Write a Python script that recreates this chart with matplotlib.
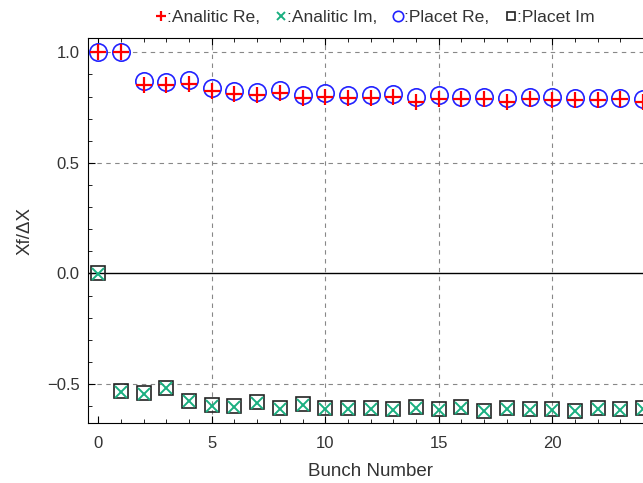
import matplotlib.pyplot as plt
import numpy as np

bunch = np.arange(25)
analitic_re = [1.0, 1.0, 0.853, 0.85, 0.858, 0.824, 0.812, 0.805, 0.815, 0.792, 0.80, 0.792, 0.792,
               0.797, 0.777, 0.79, 0.787, 0.79, 0.777, 0.787, 0.783, 0.783, 0.783, 0.787, 0.777]
placet_re = [1.0, 1.0, 0.87, 0.865, 0.873, 0.84, 0.827, 0.82, 0.83, 0.808, 0.817, 0.805, 0.807,
             0.81, 0.80, 0.805, 0.797, 0.80, 0.792, 0.797, 0.797, 0.792, 0.792, 0.792, 0.79]
placet_im = [0.0, -0.534, -0.541, -0.516, -0.575, -0.596, -0.60, -0.58, -0.61, -0.59, -0.61, -0.61, -0.61,
             -0.612, -0.603, -0.615, -0.603, -0.62, -0.61, -0.612, -0.612, -0.62, -0.61, -0.615, -0.61]
analitic_im = [v - 0.004 for v in placet_im]

plt.rcParams['font.family'] = ['Liberation Sans', 'DejaVu Sans']
plt.rcParams['font.size'] = 12
grey = '#333333'

fig = plt.figure(figsize=(6.43, 4.83), dpi=100)
ax = fig.add_axes([0.137, 0.124, 0.879, 0.797])

ax.axhline(0, color='black', lw=1, zorder=1)
l1, = ax.plot(bunch, analitic_re, '+', color='red', ms=11, mew=1.6, ls='none', zorder=4)
l2, = ax.plot(bunch, analitic_im, 'x', color='#1aaf80', ms=9, mew=1.4, ls='none', zorder=4)
l3, = ax.plot(bunch, placet_re, 'o', mfc='none', mec='#2222ff', ms=12.5, mew=1.2, ls='none', zorder=3)
l4, = ax.plot(bunch, placet_im, 's', mfc='none', mec='#222222', ms=10, mew=1.2, ls='none', zorder=3)

ax.set_xlim(-0.45, 24.45)
ax.set_ylim(-0.677, 1.064)
ax.set_xticks([0, 5, 10, 15, 20])
ax.set_xticks(np.arange(0, 25), minor=True)
ax.set_yticks([-0.5, 0.0, 0.5, 1.0])
ax.set_yticklabels(['\u22120.5', '0.0', '0.5', '1.0'])
ax.set_yticks(np.arange(-0.6, 1.05, 0.1), minor=True)
ax.tick_params(which='both', direction='in', top=True, right=False, labelcolor=grey)
ax.tick_params(which='major', length=5)
ax.tick_params(which='minor', length=3)
ax.tick_params(axis='x', pad=9)
ax.tick_params(axis='y', pad=6)
ax.grid(True, which='major', ls='--', color='#888888', lw=0.8, dashes=(4, 4))
ax.xaxis.get_gridlines()[0].set_visible(False)
ax.yaxis.get_gridlines()[1].set_visible(False)
ax.spines['right'].set_visible(False)

ax.set_xlabel('Bunch Number', color=grey, fontsize=13.5, labelpad=9)
ax.set_ylabel('Xf/\u0394X', color=grey, fontsize=13.5, labelpad=10)

fig.legend([l1, l2, l3, l4],
           [':Analitic Re,', ':Analitic Im,', ':Placet Re,', ':Placet Im'],
           ncol=4, loc='upper center', bbox_to_anchor=(0.583, 1.013), frameon=False,
           fontsize=12.6, handlelength=0.6, handletextpad=0.05, columnspacing=0.9,
           markerscale=0.6, labelcolor=grey)

fig.savefig('out.png', dpi=100)
